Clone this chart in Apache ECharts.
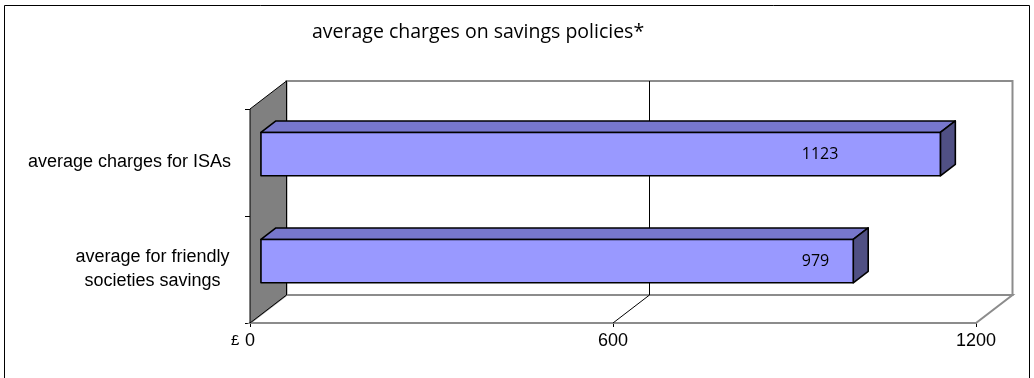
<!DOCTYPE html>
<html>
<head>
<meta charset="utf-8">
<title>average charges on savings policies</title>
<script src="https://cdn.jsdelivr.net/npm/echarts@6/dist/echarts.min.js"></script>
<style>
  html, body { margin: 0; padding: 0; background: #fff; }
  #chart { width: 1034px; height: 378px; }
</style>
</head>
<body>
<div id="chart"></div>
<script>
// Chart data
const chartTitle = 'average charges on savings policies*';
const categories = ['average charges for ISAs', 'average for friendly\nsocieties savings'];
const charges = [1123, 979];
const valueTicks = [0, 600, 1200];
const currencySymbol = '£';

// 3D look: oblique depth offset of the whole plot box and where bars sit inside it
const DEPTH = [36.5, -28];
const BAR_FRONT = 0.3;
const BAR_BACK = 0.71;
const BAR_THICKNESS = 0.405;

const chart = echarts.init(document.getElementById('chart'));

function plotBox(api) {
  const band = api.size([0, 1])[1];
  const left = api.coord([valueTicks[0], 0])[0];
  const right = api.coord([valueTicks[valueTicks.length - 1], 0])[0];
  const top = api.coord([0, 0])[1] - band / 2;
  const bottom = api.coord([0, categories.length - 1])[1] + band / 2;
  return { left, right, top, bottom, band };
}

function renderWalls(params, api) {
  const b = plotBox(api);
  const [dx, dy] = DEPTH;
  const children = [];
  // back wall
  children.push({
    type: 'rect',
    shape: { x: b.left + dx, y: b.top + dy, width: b.right - b.left, height: b.bottom - b.top },
    style: { fill: '#ffffff', stroke: '#8c8c8c', lineWidth: 2 }
  });
  // floor
  children.push({
    type: 'polygon',
    shape: { points: [[b.left, b.bottom], [b.right, b.bottom], [b.right + dx, b.bottom + dy], [b.left + dx, b.bottom + dy]] },
    style: { fill: '#ffffff', stroke: '#8c8c8c', lineWidth: 2 }
  });
  // gridlines on back wall and floor
  valueTicks.slice(1, -1).forEach(function (v) {
    const x = api.coord([v, 0])[0];
    children.push({
      type: 'polyline',
      shape: { points: [[x, b.bottom], [x + dx, b.bottom + dy], [x + dx, b.top + dy]] },
      style: { stroke: '#000000', lineWidth: 1, fill: null }
    });
  });
  // left side wall
  children.push({
    type: 'polygon',
    shape: { points: [[b.left, b.top], [b.left + dx, b.top + dy], [b.left + dx, b.bottom + dy], [b.left, b.bottom]] },
    style: { fill: '#808080', stroke: '#000000', lineWidth: 1 }
  });
  return { type: 'group', children: children };
}

function renderBar(params, api) {
  const v = api.value(0);
  const idx = api.value(1);
  const base = api.coord([0, idx]);
  const end = api.coord([v, idx]);
  const band = api.size([0, 1])[1];
  const h = band * BAR_THICKNESS;
  const fx = DEPTH[0] * BAR_FRONT, fy = DEPTH[1] * BAR_FRONT;
  const dx = DEPTH[0] * (BAR_BACK - BAR_FRONT), dy = DEPTH[1] * (BAR_BACK - BAR_FRONT);
  const x0 = base[0] + fx, x1 = end[0] + fx;
  const yT = base[1] + fy - h / 2, yB = base[1] + fy + h / 2;
  const edge = { stroke: '#000000', lineWidth: 1.6, lineJoin: 'round' };
  const labelX = api.coord([894, idx])[0] + fx;
  return {
    type: 'group',
    children: [
      {
        type: 'polygon',
        shape: { points: [[x0, yT], [x1, yT], [x1 + dx, yT + dy], [x0 + dx, yT + dy]] },
        style: Object.assign({ fill: '#7777cc' }, edge)
      },
      {
        type: 'polygon',
        shape: { points: [[x1, yT], [x1 + dx, yT + dy], [x1 + dx, yB + dy], [x1, yB]] },
        style: Object.assign({ fill: '#505084' }, edge)
      },
      {
        type: 'rect',
        shape: { x: x0, y: yT, width: x1 - x0, height: yB - yT },
        style: Object.assign({ fill: '#9999ff' }, edge)
      },
      {
        type: 'text',
        x: labelX,
        y: (yT + yB) / 2,
        style: {
          text: String(v),
          fill: '#000000',
          font: '16px "Open Sans", sans-serif',
          align: 'left',
          verticalAlign: 'middle'
        }
      }
    ]
  };
}

chart.setOption({
  animation: false,
  backgroundColor: '#ffffff',
  title: {
    text: chartTitle,
    left: 307,
    top: 17,
    textStyle: { fontFamily: 'Open Sans', fontSize: 19.5, fontWeight: 'normal', color: '#000000' }
  },
  graphic: [
    {
      type: 'rect',
      shape: { x: 4.5, y: 5.5, width: 1025, height: 390 },
      style: { fill: null, stroke: '#000000', lineWidth: 1 },
      silent: true
    },
    {
      type: 'text',
      left: 231,
      top: 333,
      style: { text: currencySymbol, font: '15px "Liberation Sans", sans-serif', fill: '#000000' }
    }
  ],
  grid: { left: 250, right: 58, top: 109, bottom: 55 },
  xAxis: {
    type: 'value',
    min: valueTicks[0],
    max: valueTicks[valueTicks.length - 1],
    interval: valueTicks[1] - valueTicks[0],
    axisLine: { show: true, lineStyle: { color: '#8c8c8c', width: 2 } },
    axisTick: { show: true, length: 4, lineStyle: { color: '#000000' } },
    splitLine: { show: false },
    axisLabel: {
      margin: 9,
      color: '#000000',
      fontFamily: 'Liberation Sans',
      fontSize: 18,
      formatter: function (v) { return String(v); }
    }
  },
  yAxis: {
    type: 'category',
    inverse: true,
    data: categories,
    axisLine: { show: true, lineStyle: { color: '#000000', width: 1 } },
    axisTick: { show: true, length: 5, lineStyle: { color: '#000000' } },
    splitLine: { show: false },
    axisLabel: {
      margin: 19,
      color: '#000000',
      fontFamily: 'Liberation Sans',
      fontSize: 18,
      lineHeight: 24,
      align: 'right',
      formatter: function (value) {
        if (value.indexOf('\n') >= 0) {
          return value.split('\n').map(function (l) { return '{c|' + l + '}'; }).join('\n');
        }
        return value;
      },
      rich: {
        c: { width: 157, align: 'center', fontFamily: 'Liberation Sans', fontSize: 18, lineHeight: 24, color: '#000000' }
      }
    }
  },
  series: [
    {
      type: 'custom',
      z: 1,
      silent: true,
      clip: false,
      data: [[0, 0]],
      encode: { x: 0, y: 1 },
      renderItem: renderWalls
    },
    {
      type: 'custom',
      z: 3,
      silent: true,
      clip: false,
      data: charges.map(function (v, i) { return [v, i]; }),
      encode: { x: 0, y: 1 },
      renderItem: renderBar
    }
  ]
});
</script>
</body>
</html>
